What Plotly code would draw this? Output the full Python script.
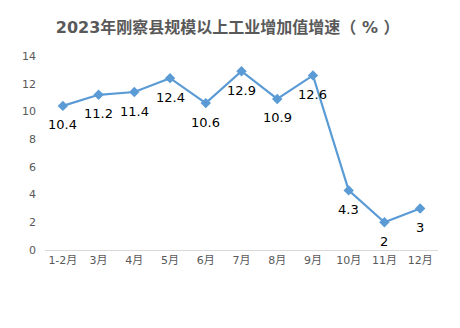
import plotly.graph_objects as go

months = ["1-2月", "3月", "4月", "5月", "6月", "7月", "8月", "9月", "10月", "11月", "12月"]
growth = [10.4, 11.2, 11.4, 12.4, 10.6, 12.9, 10.9, 12.6, 4.3, 2, 3]
labels = ["10.4", "11.2", "11.4", "12.4", "10.6", "12.9", "10.9", "12.6", "4.3", "2", "3"]
y_ticks = [0, 2, 4, 6, 8, 10, 12, 14]

FONT = "DejaVu Sans, Noto Sans CJK SC, sans-serif"

fig = go.Figure()
fig.add_trace(go.Scatter(
    x=months, y=growth, mode="lines+markers",
    line=dict(color="#5B9BD5", width=2.2),
    marker=dict(symbol="diamond", size=8, color="#5B9BD5"),
    hoverinfo="skip", showlegend=False,
))

for m, v, t in zip(months, growth, labels):
    fig.add_annotation(x=m, y=v, text=t, showarrow=False, yshift=-19,
                       font=dict(family=FONT, size=13, color="#000000"))

fig.update_layout(
    width=460, height=328,
    margin=dict(l=45, r=22, t=56, b=78),
    paper_bgcolor="white", plot_bgcolor="white",
    title=dict(text="<b>2023年刚察县规模以上工业增加值增速（ % ）</b>",
               x=0.495, xanchor="center", y=0.917, yanchor="middle",
               font=dict(family=FONT, size=16, color="#595959")),
    font=dict(family=FONT, color="#595959"),
)
fig.update_xaxes(
    type="category", showgrid=False, showline=True, linecolor="#D9D9D9", linewidth=1,
    ticks="", tickfont=dict(size=11, color="#595959"),
    range=[-0.5, len(months) - 0.5],
)
fig.update_yaxes(
    range=[0, 14], tickvals=y_ticks, showgrid=False, zeroline=False, showline=False,
    ticks="", ticklabelstandoff=8, tickfont=dict(size=11, color="#595959"),
)

fig.write_html("out.html")
